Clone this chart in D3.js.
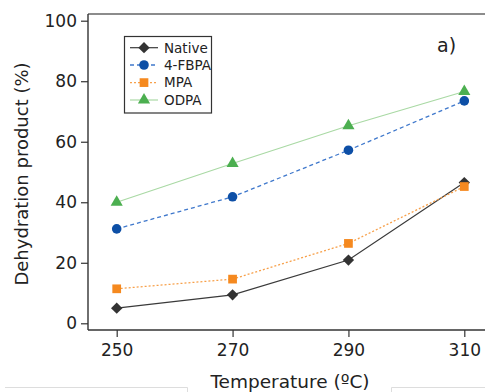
<!DOCTYPE html>
<html>
<head>
<meta charset="utf-8">
<script src="https://cdn.jsdelivr.net/npm/d3@7"></script>
<style>
  body { margin: 0; background: #fff; }
  text { font-family: "DejaVu Sans", Verdana, sans-serif; fill: #222; }
</style>
</head>
<body>
<div id="chart"></div>
<script>
let w = 485;
let h = 392;

// data
let temps = [250, 270, 290, 310];
let yTicks = [0, 20, 40, 60, 80, 100];
let nativeVals = [5, 9.4, 20.9, 46.5];
let fbpaVals = [31.2, 41.8, 57.2, 73.5];
let mpaVals = [11.4, 14.6, 26.4, 45.2];
let odpaVals = [40, 52.8, 65.3, 76.6];

let seriesNames = ["Native", "4-FBPA", "MPA", "ODPA"];

let series = [
  {name: seriesNames[0], vals: nativeVals, line: "#3a3a3a", fill: "#333", dash: null, sym: d3.symbolDiamond2, size: 82, lw: 1.2},
  {name: seriesNames[1], vals: fbpaVals, line: "#3f78cc", fill: "#0d4fa6", dash: "4,3", sym: d3.symbolCircle, size: 72, lw: 1.3},
  {name: seriesNames[2], vals: mpaVals, line: "#f7a04a", fill: "#f5891f", dash: "2,2", sym: d3.symbolSquare, size: 76, lw: 1.3},
  {name: seriesNames[3], vals: odpaVals, line: "#a9d9a4", fill: "#4caf50", dash: null, sym: d3.symbolTriangle, size: 64, lw: 1.2}
];

let viz = d3.select("#chart").append("svg")
  .attr("width", w)
  .attr("height", h);

// scales
let xScale = d3.scaleLinear().domain([250, 310]).range([116.7, 464.3]);
let yScale = d3.scaleLinear().domain([0, 100]).range([323.3, 20.7]);

let axisLeft = 88, axisBottom = 330, frameTop = 14;

// frame top line (runs off the right edge)
viz.append("line")
  .attr("x1", axisLeft).attr("x2", w)
  .attr("y1", frameTop).attr("y2", frameTop)
  .attr("stroke", "#666").attr("stroke-width", 1.6);

// y axis
let yAxis = d3.axisLeft(yScale).tickValues(yTicks).tickSize(7).tickPadding(4);
let yG = viz.append("g").attr("transform", "translate(" + axisLeft + ",0)").call(yAxis);
yG.select(".domain").remove();
yG.append("line").attr("x1", 0).attr("x2", 0).attr("y1", frameTop).attr("y2", axisBottom)
  .attr("stroke", "#333").attr("stroke-width", 1.4);
yG.selectAll(".tick line").attr("stroke", "#333").attr("stroke-width", 1.2);
yG.selectAll(".tick text").attr("font-size", 17).attr("fill", "#222")
  .style("font-family", "DejaVu Sans, sans-serif");

// x axis
let xAxis = d3.axisBottom(xScale).tickValues(temps).tickSize(7).tickPadding(7).tickFormat(d3.format("d"));
let xG = viz.append("g").attr("transform", "translate(0," + axisBottom + ")").call(xAxis);
xG.select(".domain").remove();
xG.append("line").attr("x1", axisLeft).attr("x2", w).attr("y1", 0).attr("y2", 0)
  .attr("stroke", "#333").attr("stroke-width", 1.4);
xG.selectAll(".tick line").attr("stroke", "#333").attr("stroke-width", 1.2);
xG.selectAll(".tick text").attr("font-size", 17).attr("fill", "#222")
  .style("font-family", "DejaVu Sans, sans-serif");

// axis titles
viz.append("text")
  .text("Temperature (ºC)")
  .attr("x", 290).attr("y", 388)
  .attr("text-anchor", "middle")
  .attr("font-size", 18.5);

viz.append("text")
  .text("Dehydration product (%)")
  .attr("transform", "translate(28,174) rotate(-90)")
  .attr("text-anchor", "middle")
  .attr("font-size", 18);

viz.append("text")
  .text("a)")
  .attr("x", 437).attr("y", 52)
  .attr("font-size", 19);

// faint lines at the very bottom (cropped figure edge)
viz.append("path")
  .attr("d", "M5,387.5H187.5V392 M391.5,392V387.5H485")
  .attr("fill", "none").attr("stroke", "#ddd").attr("stroke-width", 1);

// series
let line = d3.line()
  .x(function(d, i){ return xScale(temps[i]); })
  .y(function(d){ return yScale(d); });

series.forEach(function(s){
  viz.append("path")
    .attr("d", line(s.vals))
    .attr("fill", "none")
    .attr("stroke", s.line)
    .attr("stroke-width", s.lw)
    .attr("stroke-dasharray", s.dash);
});

series.forEach(function(s){
  viz.selectAll(null).data(s.vals).enter()
    .append("path")
    .attr("d", d3.symbol().type(s.sym).size(s.size))
    .attr("transform", function(d, i){
      return "translate(" + xScale(temps[i]) + "," + yScale(d) + ")";
    })
    .attr("fill", s.fill);
});

// legend
let legend = viz.append("g");
legend.append("rect")
  .attr("x", 124.5).attr("y", 36.5)
  .attr("width", 87).attr("height", 76.5)
  .attr("fill", "#fff").attr("stroke", "#333").attr("stroke-width", 1.2);

let rowY = [47.7, 65, 82.6, 100];
series.forEach(function(s, i){
  let g = legend.append("g").attr("transform", "translate(0," + rowY[i] + ")");
  g.append("line").attr("x1", 130).attr("x2", 158).attr("y1", 0).attr("y2", 0)
    .attr("stroke", s.line).attr("stroke-width", s.lw).attr("stroke-dasharray", s.dash);
  g.append("path")
    .attr("d", d3.symbol().type(s.sym).size(s.size))
    .attr("transform", "translate(144,0)")
    .attr("fill", s.fill);
  g.append("text").text(s.name)
    .attr("x", 164).attr("y", 0)
    .attr("dy", "0.36em")
    .attr("font-size", 13.5);
});
</script>
</body>
</html>
